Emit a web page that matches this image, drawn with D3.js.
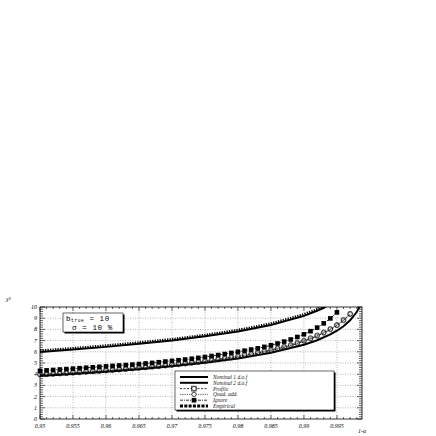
<!DOCTYPE html>
<html>
<meta charset="utf-8">
<style>
    body { margin: 0; background: #fff; }
    .grid { fill: none; stroke: #888; stroke-width: 0.6px; stroke-dasharray: 1,1.5; }
    .frame { fill: none; stroke: #000; stroke-width: 0.8px; }
    .tick { stroke: #000; stroke-width: 0.6px; }
    .lbl { font-family: "Liberation Serif", serif; font-style: italic; font-size: 6px; fill: #000; }
    .leg { font-family: "Liberation Serif", serif; font-style: italic; font-size: 5.5px; fill: #222; }
    .box { font-family: "Liberation Mono", monospace; font-size: 7.5px; letter-spacing: 0.6px; fill: #000; }
</style>
<body>
<script src="https://d3js.org/d3.v7.min.js"></script>
<script>

    var width = 436,
        height = 436;

    // plot frame in pixels
    var fLeft = 40, fRight = 362, fTop = 307, fBottom = 419;

    // confidence level grid of the marker series
    var cl = [0.950, 0.951, 0.952, 0.953, 0.954, 0.955, 0.956, 0.957, 0.958, 0.959,
              0.960, 0.961, 0.962, 0.963, 0.964, 0.965, 0.966, 0.967, 0.968, 0.969,
              0.970, 0.971, 0.972, 0.973, 0.974, 0.975, 0.976, 0.977, 0.978, 0.979,
              0.980, 0.981, 0.982, 0.983, 0.984, 0.985, 0.986, 0.987, 0.988, 0.989,
              0.990, 0.991, 0.992, 0.993, 0.994, 0.995, 0.996, 0.997];

    var ignore = [4.30, 4.34, 4.38, 4.42, 4.46, 4.50, 4.54, 4.58, 4.62, 4.66,
                  4.70, 4.74, 4.78, 4.82, 4.86, 4.91, 4.96, 5.01, 5.07, 5.13,
                  5.19, 5.25, 5.31, 5.38, 5.46, 5.54, 5.62, 5.71, 5.80, 5.90,
                  6.00, 6.10, 6.20, 6.31, 6.44, 6.58, 6.74, 6.91, 7.10, 7.32,
                  7.56, 7.84, 8.16, 8.54, 8.98, 9.52];

    var quadAdd = [4.00, 4.03, 4.06, 4.09, 4.12, 4.16, 4.20, 4.24, 4.28, 4.32,
                   4.36, 4.40, 4.44, 4.49, 4.54, 4.59, 4.64, 4.69, 4.74, 4.80,
                   4.86, 4.92, 4.98, 5.05, 5.12, 5.19, 5.27, 5.35, 5.43, 5.52,
                   5.61, 5.71, 5.81, 5.92, 6.04, 6.17, 6.31, 6.46, 6.62, 6.80,
                   7.00, 7.22, 7.46, 7.73, 8.04, 8.40, 8.85, 9.40];

    var profile = [3.94, 3.97, 4.00, 4.03, 4.06, 4.10, 4.14, 4.18, 4.22, 4.26,
                   4.30, 4.34, 4.38, 4.43, 4.48, 4.53, 4.58, 4.63, 4.68, 4.74,
                   4.80, 4.86, 4.92, 4.99, 5.06, 5.13, 5.21, 5.29, 5.37, 5.46,
                   5.55, 5.65, 5.75, 5.86, 5.98, 6.11, 6.25, 6.40, 6.56, 6.74,
                   6.94, 7.16, 7.40, 7.67, 7.98, 8.34, 8.79, 9.34];

    // nominal curves
    var nomX1 = [0.950, 0.955, 0.960, 0.965, 0.970, 0.975, 0.980, 0.985, 0.990, 0.992, 0.994, 0.995, 0.996, 0.997, 0.998, 0.9985];
    var nom1  = [3.84, 4.01, 4.22, 4.45, 4.71, 5.02, 5.41, 5.92, 6.63, 7.03, 7.55, 7.88, 8.28, 8.81, 9.55, 10.1];
    var nomX2 = [0.950, 0.955, 0.960, 0.965, 0.970, 0.975, 0.980, 0.985, 0.990, 0.992, 0.993, 0.9935];
    var nom2  = [5.99, 6.20, 6.44, 6.71, 7.01, 7.38, 7.82, 8.40, 9.21, 9.66, 9.93, 10.1];
    var empirical = [6.12, 6.33, 6.57, 6.84, 7.14, 7.51, 7.96, 8.54, 9.36, 9.81, 10.08, 10.2];

    var xTicks = [0.95, 0.955, 0.96, 0.965, 0.97, 0.975, 0.98, 0.985, 0.99, 0.995];
    var xTickLabels = ["0.95", "0.955", "0.96", "0.965", "0.97", "0.975", "0.98", "0.985", "0.99", "0.995"];
    var yTicks = [0, 1, 2, 3, 4, 5, 6, 7, 8, 9, 10];

    var legendNames = ["Nominal 1 d.o.f", "Nominal 2 d.o.f", "Profile", "Quad. add.", "Ignore", "Empirical"];

    var x = d3.scaleLinear().domain([0.95, 0.9988]).range([fLeft, fRight]);
    var y = d3.scaleLinear().domain([0, 10]).range([fBottom, fTop]);

    var svg = d3.select("body").append("svg")
        .attr("width", width)
        .attr("height", height);

    svg.append("defs").append("clipPath").attr("id", "clip")
        .append("rect").attr("x", fLeft).attr("y", fTop)
        .attr("width", fRight - fLeft).attr("height", fBottom - fTop);

    // grid
    svg.selectAll(".gx").data(xTicks.slice(1)).enter().append("line")
        .attr("class", "grid")
        .attr("x1", d => x(d)).attr("x2", d => x(d))
        .attr("y1", fTop).attr("y2", fBottom);
    svg.selectAll(".gy").data(yTicks.slice(1, -1)).enter().append("line")
        .attr("class", "grid")
        .attr("x1", fLeft).attr("x2", fRight)
        .attr("y1", d => y(d)).attr("y2", d => y(d));

    // ticks, drawn inward on all four sides
    var xMinor = d3.range(0.95, 0.9988, 0.001);
    var yMinor = d3.range(0, 10.001, 0.2);
    xMinor.forEach(function (v) {
        var major = Math.abs(Math.round(v / 0.005) * 0.005 - v) < 1e-6;
        var len = major ? 4 : 2;
        svg.append("line").attr("class", "tick")
            .attr("x1", x(v)).attr("x2", x(v)).attr("y1", fBottom).attr("y2", fBottom - len);
        svg.append("line").attr("class", "tick")
            .attr("x1", x(v)).attr("x2", x(v)).attr("y1", fTop).attr("y2", fTop + len);
    });
    yMinor.forEach(function (v) {
        var major = Math.abs(Math.round(v) - v) < 1e-6;
        var len = major ? 5 : 3;
        svg.append("line").attr("class", "tick")
            .attr("x1", fLeft).attr("x2", fLeft + len).attr("y1", y(v)).attr("y2", y(v));
        svg.append("line").attr("class", "tick")
            .attr("x1", fRight).attr("x2", fRight - len).attr("y1", y(v)).attr("y2", y(v));
    });

    svg.append("rect").attr("class", "frame")
        .attr("x", fLeft).attr("y", fTop)
        .attr("width", fRight - fLeft).attr("height", fBottom - fTop);

    // tick labels
    svg.selectAll(".xl").data(xTicks).enter().append("text")
        .attr("class", "lbl")
        .attr("x", d => x(d)).attr("y", fBottom + 9)
        .attr("text-anchor", "middle")
        .text((d, i) => xTickLabels[i]);
    svg.selectAll(".yl").data(yTicks).enter().append("text")
        .attr("class", "lbl")
        .attr("x", fLeft - 3).attr("y", d => y(d) + 2)
        .attr("text-anchor", "end")
        .text(d => d);

    svg.append("text").attr("class", "lbl").attr("x", 358).attr("y", 433).text("1-α");
    svg.append("text").attr("class", "lbl").attr("x", 6).attr("y", 301).text("χ²");

    // curves
    var g = svg.append("g").attr("clip-path", "url(#clip)");

    function line(xs) {
        return d3.line().x((d, i) => x(xs[i])).y(d => y(d));
    }

    g.append("path").datum(nom2).attr("fill", "none").attr("stroke", "#000")
        .attr("stroke-width", 2).attr("d", line(nomX2));
    g.append("path").datum(empirical).attr("fill", "none").attr("stroke", "#000")
        .attr("stroke-width", 2.2).attr("stroke-dasharray", "1.3,1.2").attr("d", line(nomX2));
    g.append("path").datum(nom1).attr("fill", "none").attr("stroke", "#000")
        .attr("stroke-width", 2).attr("d", line(nomX1));

    g.append("path").datum(profile).attr("fill", "none").attr("stroke", "#000")
        .attr("stroke-width", 0.8).attr("stroke-dasharray", "2,1.5").attr("d", line(cl));
    g.append("path").datum(quadAdd).attr("fill", "none").attr("stroke", "#000")
        .attr("stroke-width", 0.8).attr("stroke-dasharray", "0.8,1").attr("d", line(cl));
    g.append("path").datum(ignore).attr("fill", "none").attr("stroke", "#000")
        .attr("stroke-width", 0.8).attr("stroke-dasharray", "3,1,1,1").attr("d", line(cl));

    // markers are not clipped, the first ones sit over the left axis
    var m = svg.append("g");
    m.selectAll(".pc").data(profile).enter().append("circle")
        .attr("cx", (d, i) => x(cl[i])).attr("cy", d => y(d)).attr("r", 2.2)
        .attr("fill", "none").attr("stroke", "#333").attr("stroke-width", 0.6);
    m.selectAll(".qc").data(quadAdd).enter().append("circle")
        .attr("cx", (d, i) => x(cl[i])).attr("cy", d => y(d)).attr("r", 2.4)
        .attr("fill", "none").attr("stroke", "#000").attr("stroke-width", 0.7);
    m.selectAll(".sq").data(ignore).enter().append("rect")
        .attr("x", (d, i) => x(cl[i]) - 2.3).attr("y", d => y(d) - 2.3)
        .attr("width", 4.6).attr("height", 4.6).attr("fill", "#000");

    // info box
    var bx = 63, by = 313, bw = 60, bh = 19;
    svg.append("rect").attr("x", bx + 1.5).attr("y", by + 1.5).attr("width", bw).attr("height", bh).attr("fill", "#000");
    svg.append("rect").attr("x", bx).attr("y", by).attr("width", bw).attr("height", bh)
        .attr("fill", "#fff").attr("stroke", "#000").attr("stroke-width", 0.6);
    var t1 = svg.append("text").attr("class", "box").attr("x", bx + 3).attr("y", by + 7.5);
    t1.append("tspan").text("b");
    t1.append("tspan").attr("font-size", "4.5px").attr("dy", 1.5).text("true");
    t1.append("tspan").attr("dy", -1.5).text(" = 10");
    svg.append("text").attr("class", "box").attr("x", bx + 9).attr("y", by + 16.5).text("σ = 10 %");

    // legend
    var lx = 175, ly = 371, lw = 159, lh = 39;
    svg.append("rect").attr("x", lx + 1.5).attr("y", ly + 1.5).attr("width", lw).attr("height", lh).attr("fill", "#000");
    svg.append("rect").attr("x", lx).attr("y", ly).attr("width", lw).attr("height", lh)
        .attr("fill", "#fff").attr("stroke", "#000").attr("stroke-width", 0.6);

    var rowY = d3.scalePoint().domain(legendNames).range([ly + 6, ly + lh - 4]);
    var dash = ["", "", "2,1.5", "0.8,1", "3,1,1,1", "3,1.3"];
    var sw = [2, 2, 0.8, 0.8, 0.8, 3];
    legendNames.forEach(function (name, i) {
        var yy = rowY(name);
        svg.append("line").attr("x1", lx + 5).attr("x2", lx + 33).attr("y1", yy).attr("y2", yy)
            .attr("stroke", "#000").attr("stroke-width", sw[i]).attr("stroke-dasharray", dash[i]);
        if (i === 2 || i === 3) {
            svg.append("circle").attr("cx", lx + 19).attr("cy", yy).attr("r", 2.2)
                .attr("fill", "#fff").attr("stroke", "#000").attr("stroke-width", 0.7);
        }
        if (i === 2) {
            svg.append("rect").attr("x", lx + 16.5).attr("y", yy - 2.5).attr("width", 5).attr("height", 5)
                .attr("fill", "none").attr("stroke", "#000").attr("stroke-width", 0.5);
        }
        if (i === 4) {
            svg.append("rect").attr("x", lx + 16.7).attr("y", yy - 2.3).attr("width", 4.6).attr("height", 4.6)
                .attr("fill", "#000");
        }
        svg.append("text").attr("class", "leg").attr("x", lx + 38).attr("y", yy + 2).text(name);
    });

</script>
</body>
</html>
